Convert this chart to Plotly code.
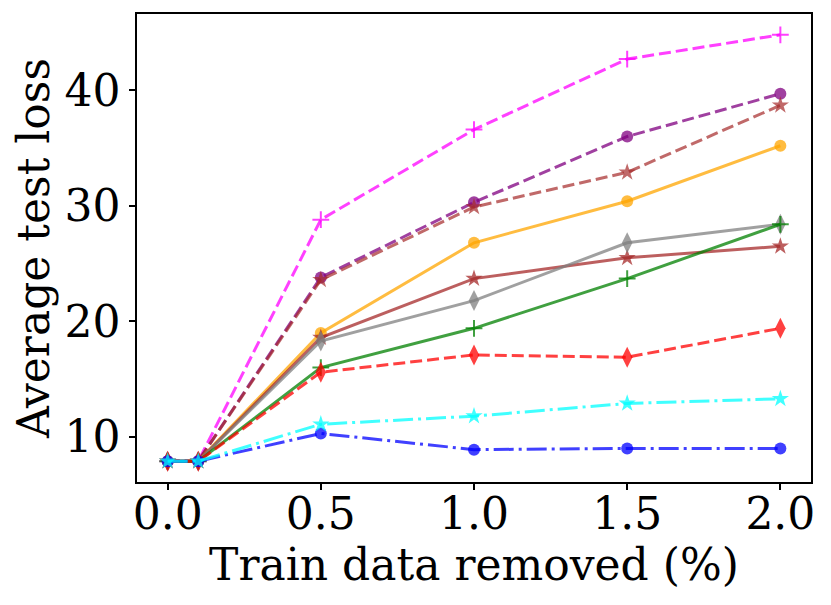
import plotly.graph_objects as go

x = [0.0, 0.1, 0.5, 1.0, 1.5, 2.0]

magenta_plus = [7.9, 7.9, 28.8, 36.6, 42.7, 44.8]
purple_circle = [7.9, 7.9, 23.8, 30.3, 36.0, 39.7]
brown_dash_star = [7.9, 7.9, 23.6, 29.9, 32.9, 38.7]
orange_circle = [7.9, 7.9, 19.0, 26.8, 30.4, 35.2]
brown_star = [7.9, 7.9, 18.6, 23.7, 25.5, 26.5]
gray_diamond = [7.9, 7.9, 18.3, 21.8, 26.8, 28.4]
green_plus = [7.9, 7.9, 16.0, 19.4, 23.7, 28.4]
red_diamond = [7.9, 7.9, 15.6, 17.1, 16.9, 19.4]
blue_circle = [7.9, 7.9, 10.3, 8.9, 9.0, 9.0]
cyan_star = [7.9, 7.9, 11.1, 11.8, 12.9, 13.3]

DASH = "12px,5px"
DASHDOT = "20px,5px,3px,5px"

series = [
    (magenta_plus, "rgba(255,0,255,0.75)", DASH, "cross-thin", 12),
    (purple_circle, "rgba(128,0,128,0.75)", DASH, "circle", 12),
    (brown_dash_star, "rgba(165,42,42,0.7)", DASH, "star", 13),
    (orange_circle, "rgba(255,165,0,0.75)", "solid", "circle", 12),
    (brown_star, "rgba(165,42,42,0.75)", "solid", "star", 13),
    (gray_diamond, "rgba(128,128,128,0.75)", "solid", "diamond-tall", 15),
    (green_plus, "rgba(0,128,0,0.75)", "solid", "cross-thin", 12),
    (red_diamond, "rgba(255,0,0,0.75)", DASH, "diamond-tall", 15),
    (blue_circle, "rgba(0,0,255,0.75)", DASHDOT, "circle", 12),
    (cyan_star, "rgba(0,255,255,0.75)", DASHDOT, "star", 13),
]

fig = go.Figure()
for y, color, dash, symbol, size in series:
    fig.add_trace(go.Scatter(
        x=x, y=y, mode="lines+markers",
        line=dict(color=color, width=3, dash=dash),
        marker=dict(symbol=symbol, size=size, color=color,
                    line=dict(color=color, width=2 if "cross" in symbol else 0)),
        showlegend=False,
    ))

# page has an 8px body margin, so the figure is 8px smaller than the window
axis_font = dict(family="DejaVu Serif", size=44, color="black")
fig.update_layout(
    width=823, height=597,
    margin=dict(l=129, r=20, t=6, b=123, autoexpand=False),
    plot_bgcolor="white", paper_bgcolor="white",
    font=axis_font,
)
fig.update_xaxes(
    range=[-0.1, 2.1], tickvals=[0.0, 0.5, 1.0, 1.5, 2.0],
    ticktext=["0.0", "0.5", "1.0", "1.5", "2.0"],
    showline=True, linecolor="black", linewidth=1.5, mirror=True,
    ticks="outside", ticklen=6, tickwidth=1.5, tickcolor="black",
    ticklabelstandoff=-14,
    showgrid=False, zeroline=False, tickfont=axis_font, automargin=False,
    title=dict(text="Train data removed (%)", font=axis_font, standoff=0),
)
fig.update_yaxes(
    range=[6.1, 46.6], tickvals=[10, 20, 30, 40],
    showline=True, linecolor="black", linewidth=1.5, mirror=True,
    ticks="outside", ticklen=6, tickwidth=1.5, tickcolor="black",
    showgrid=False, zeroline=False, tickfont=axis_font, automargin=False,
    title=dict(text="Average test loss", font=axis_font, standoff=6),
)

fig.write_html("out.html")
